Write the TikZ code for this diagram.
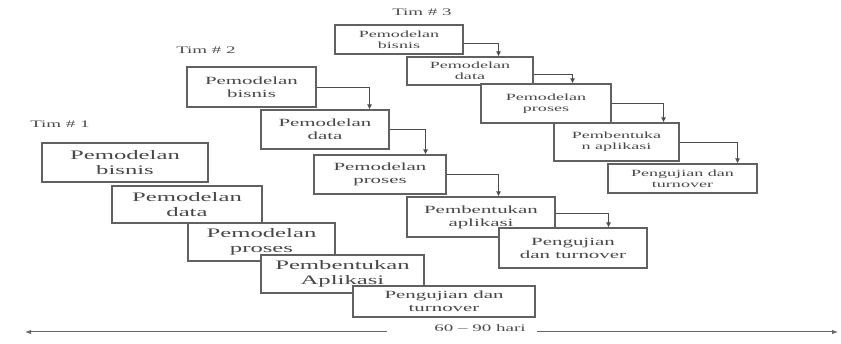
\documentclass[tikz,border=0pt]{standalone}
\usepackage{fontspec}
\setmainfont{Liberation Serif}[FakeStretch=1.9]
\usetikzlibrary{arrows.meta}

\tikzset{
  stage/.style={draw=black!62, line width=1.1pt, fill=white, inner sep=0pt,
                align=center, text=black!72},
  size/.style 2 args={minimum width=#1, minimum height=#2},
  bigtext/.style={font=\fontsize{13}{15}\selectfont},
  midtext/.style={font=\fontsize{11}{13}\selectfont},
  smalltext/.style={font=\fontsize{9.5}{11}\selectfont},
  teamlabel/.style={text=black!70, font=\fontsize{10}{12}\selectfont, inner sep=1pt},
  flow/.style={draw=black!70, line width=0.9pt, -{Latex[length=5pt,width=5pt]}},
  span/.style={draw=black!60, line width=1pt}
}

\begin{document}
\begin{tikzpicture}[x=1pt, y=-1pt]
\useasboundingbox (0,0) rectangle (841,344);

% ---- Tim # 1 : one long sequential pass ----
\node[teamlabel] (t1) at (60,124) {Tim \# 1};
\node[stage, bigtext, size={166pt}{39pt}] (A1) at (125,162.5) {Pemodelan\\bisnis};
\node[stage, bigtext, size={150pt}{37pt}] (A2) at (187,204.5) {Pemodelan\\data};
\node[stage, bigtext, size={147pt}{38pt}] (A3) at (261.5,242) {Pemodelan\\proses};
\node[stage, bigtext, size={163pt}{38pt}] (A4) at (342.5,274) {Pembentukan\\Aplikasi};
\node[stage, midtext, size={182pt}{31pt}] (A5) at (444,301.5) {Pengujian dan\\turnover};

% ---- Tim # 2 ----
\node[teamlabel] (t2) at (206,50) {Tim \# 2};
\node[stage, midtext, size={129pt}{40pt}] (C1) at (251.5,87) {Pemodelan\\bisnis};
\node[stage, midtext, size={128pt}{39pt}] (C2) at (325,129.5) {Pemodelan\\data};
\node[stage, midtext, size={132pt}{39pt}] (C3) at (380,174.5) {Pemodelan\\proses};
\node[stage, midtext, size={148pt}{40pt}] (C4) at (481,217) {Pembentukan\\aplikasi};
\node[stage, midtext, size={148pt}{40pt}] (C5) at (573,248) {Pengujian\\dan turnover};

\draw[flow] (C1.east) -| ([xshift=-20pt]C2.north east);
\draw[flow] (C2.east) -| ([xshift=-21pt]C3.north east);
\draw[flow] (C3.east) -| ([xshift=-57pt]C4.north east);
\draw[flow] ([yshift=4pt]C4.east) -| ([xshift=-39pt]C5.north east);

% ---- Tim # 3 ----
\node[teamlabel] (t3) at (422,12) {Tim \# 3};
\node[stage, smalltext, size={128pt}{29pt}] (D1) at (399,39.5) {Pemodelan\\bisnis};
\node[stage, smalltext, size={126pt}{28pt}] (D2) at (470,71) {Pemodelan\\data};
\node[stage, smalltext, size={130pt}{39pt}] (D3) at (546,103.5) {Pemodelan\\proses};
\node[stage, smalltext, size={125pt}{38pt}] (D4) at (616.5,142) {Pembentuka\\n aplikasi};
\node[stage, smalltext, size={149pt}{29pt}] (D5) at (682.5,178.5) {Pengujian dan\\turnover};

\draw[flow] ([yshift=-4pt]D1.east) -| ([xshift=-35pt]D2.north east);
\draw[flow] ([yshift=-3pt]D2.east) -| ([xshift=-39pt]D3.north east);
\draw[flow] (D3.east) -| ([xshift=-16pt]D4.north east);
\draw[flow] (D4.east) -| ([xshift=-20pt]D5.north east);

% ---- overall time span ----
\coordinate (spanL) at (25,332);
\coordinate (gapL) at (387,332);
\coordinate (gapR) at (537,332);
\coordinate (spanR) at (838,332);
\node[teamlabel] (days) at (480,328) {60 -- 90 hari};
\draw[span, {Latex[length=6pt,width=4.5pt]}-] (spanL) -- (gapL);
\draw[span, -{Latex[length=6pt,width=4.5pt]}] (gapR) -- (spanR);

\end{tikzpicture}
\end{document}
